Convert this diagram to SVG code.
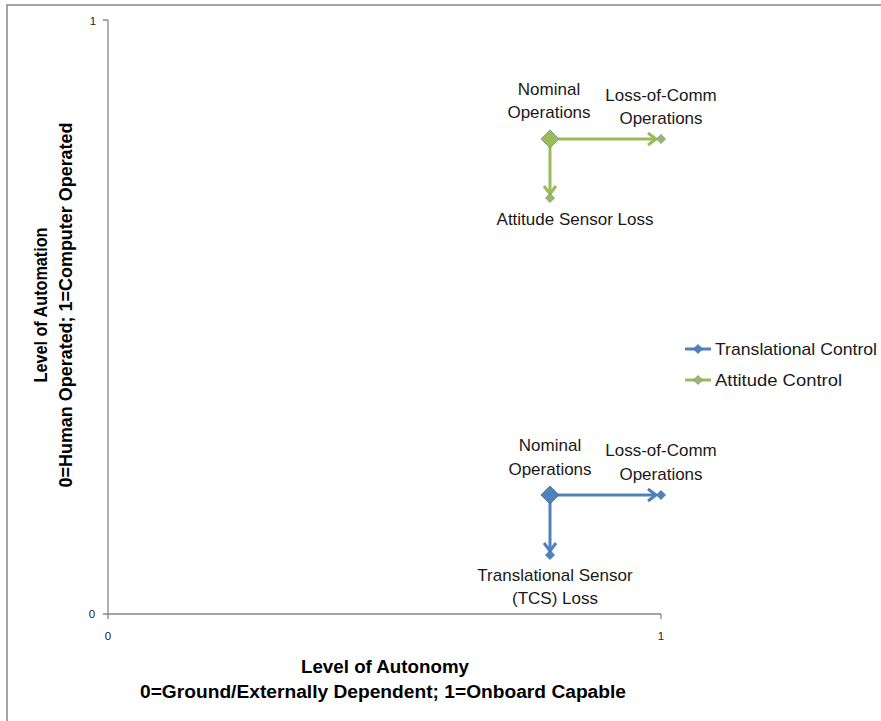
<svg xmlns="http://www.w3.org/2000/svg" width="881" height="721" viewBox="0 0 881 721">
  <style>
    text { font-family: "Liberation Sans", Arial, sans-serif; fill: #1a1a1a; }
    .lbl { font-size: 17px; text-anchor: middle; }
    .leg { font-size: 17px; }
    .tick { font-size: 11.5px; fill: #222; text-anchor: middle; }
    .title { font-size: 17.5px; font-weight: bold; text-anchor: middle; fill: #000; }
    .axis { stroke: #868686; stroke-width: 1.3; fill: none; }
    .frame { stroke: #888; stroke-width: 1.5; fill: none; }
    .blue { stroke: #4F81BD; stroke-width: 3; fill: none; }
    .green { stroke: #9BBB59; stroke-width: 3; fill: none; }
    .mk-blue { fill: #4F81BD; stroke: #3f6fa8; stroke-width: 0.8; }
    .mk-green { fill: #9BBB59; stroke: #6f8fae; stroke-width: 0.8; }
  </style>
  <defs>
    <path id="dBig" d="M0,-9 L9,0 L0,9 L-9,0 Z"/>
    <path id="dSmall" d="M0,-4.5 L4.5,0 L0,4.5 L-4.5,0 Z"/>
  </defs>

  <rect width="881" height="721" fill="#fff"/>

  <!-- chart frame -->
  <path class="frame" d="M7,721 V5 H881"/>

  <!-- axes -->
  <g id="axes">
    <path class="axis" d="M108,20 V614 H661"/>
    <path class="axis" d="M103,20 H108 M103,614 H108 M108,614 V619 M661,614 V619"/>
    <text class="tick" x="93" y="25">1</text>
    <text class="tick" x="92" y="618">0</text>
    <text class="tick" x="108" y="640">0</text>
    <text class="tick" x="661" y="640">1</text>
  </g>

  <!-- axis titles -->
  <g id="x-title">
    <text class="title" x="385" y="673" textLength="168" lengthAdjust="spacingAndGlyphs">Level of Autonomy</text>
    <text class="title" x="383" y="698" textLength="486" lengthAdjust="spacingAndGlyphs">0=Ground/Externally Dependent; 1=Onboard Capable</text>
  </g>
  <g id="y-title" transform="translate(47,305) rotate(-90)">
    <text class="title" x="0" y="0" textLength="155" lengthAdjust="spacingAndGlyphs">Level of Automation</text>
    <text class="title" x="0" y="25" textLength="365" lengthAdjust="spacingAndGlyphs">0=Human Operated; 1=Computer Operated</text>
  </g>

  <!-- connectors -->
  <g id="connectors">
    <!-- attitude control -->
    <path class="green" d="M550,139 H656"/>
    <path class="green" d="M648,133 L656,139 L648,145"/>
    <path class="green" d="M550,139 V194"/>
    <path class="green" d="M544,186 L550,194 L556,186"/>
    <!-- translational control -->
    <path class="blue" d="M550,495 H656"/>
    <path class="blue" d="M648,489 L656,495 L648,501"/>
    <path class="blue" d="M550,495 V551"/>
    <path class="blue" d="M544,543 L550,551 L556,543"/>
  </g>

  <!-- attitude control nodes -->
  <g id="att-nominal">
    <use href="#dBig" x="550" y="139" class="mk-green"/>
    <text class="lbl" x="549" y="95">Nominal</text>
    <text class="lbl" x="549" y="118">Operations</text>
  </g>
  <g id="att-loc">
    <use href="#dSmall" x="661" y="139" class="mk-green"/>
    <text class="lbl" x="661" y="101">Loss-of-Comm</text>
    <text class="lbl" x="661" y="124">Operations</text>
  </g>
  <g id="att-sensor-loss">
    <use href="#dSmall" x="550" y="198" class="mk-green"/>
    <text class="lbl" x="575" y="225">Attitude Sensor Loss</text>
  </g>

  <!-- translational control nodes -->
  <g id="trans-nominal">
    <use href="#dBig" x="550" y="495" class="mk-blue"/>
    <text class="lbl" x="550" y="451">Nominal</text>
    <text class="lbl" x="550" y="475">Operations</text>
  </g>
  <g id="trans-loc">
    <use href="#dSmall" x="661" y="495" class="mk-blue"/>
    <text class="lbl" x="661" y="456">Loss-of-Comm</text>
    <text class="lbl" x="661" y="480">Operations</text>
  </g>
  <g id="trans-sensor-loss">
    <use href="#dSmall" x="550" y="555" class="mk-blue"/>
    <text class="lbl" x="555" y="581">Translational Sensor</text>
    <text class="lbl" x="555" y="604">(TCS) Loss</text>
  </g>

  <!-- legend -->
  <g id="legend">
    <path class="blue" d="M685,349 H711"/>
    <use href="#dSmall" x="698" y="349" class="mk-blue"/>
    <text class="leg" x="715" y="355" textLength="162" lengthAdjust="spacingAndGlyphs">Translational Control</text>
    <path class="green" d="M685,380 H711"/>
    <use href="#dSmall" x="698" y="380" class="mk-green"/>
    <text class="leg" x="715" y="386" textLength="127" lengthAdjust="spacingAndGlyphs">Attitude Control</text>
  </g>
</svg>
